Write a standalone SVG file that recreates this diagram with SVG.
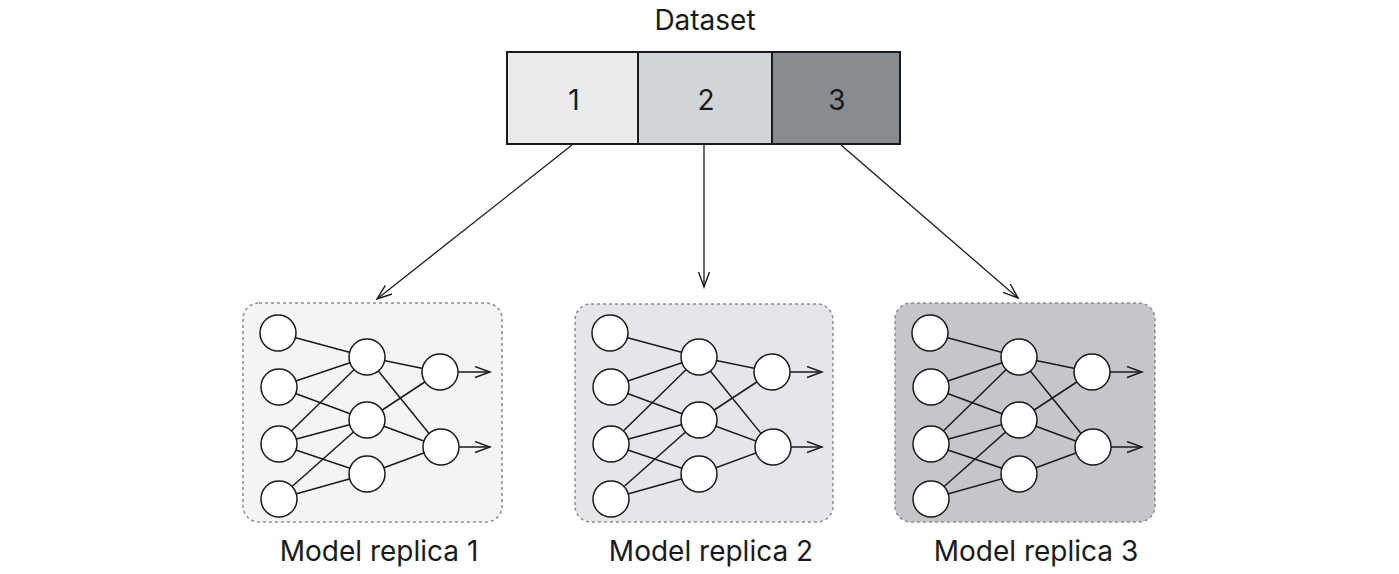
<svg xmlns="http://www.w3.org/2000/svg" width="1399" height="574" viewBox="0 0 1399 574">
<style>
.t{font-family:Inter,"Liberation Sans",sans-serif;fill:#1a1a1a;text-anchor:middle}
.cell{stroke:#1a1a1a;stroke-width:2}
.panel{stroke:#8a8d91;stroke-width:1.5;stroke-dasharray:3 3}
.n{fill:#fff;stroke:#1a1a1a;stroke-width:1.5}
.e{stroke:#1a1a1a;stroke-width:1.5;fill:none}
.c{stroke:#1a1a1a;stroke-width:1.3;fill:none}
</style>
<defs>
<marker id="ah" markerUnits="userSpaceOnUse" markerWidth="20" markerHeight="14" refX="16" refY="6" orient="auto" viewBox="0 0 20 14">
<path d="M1,0.5 L16,6 L1,11.5" fill="none" stroke="#1a1a1a" stroke-width="1.4"/>
</marker>
<g id="net">
<line class="e" x1="278" y1="333" x2="367" y2="357"/>
<line class="e" x1="278" y1="387" x2="367" y2="357"/>
<line class="e" x1="278" y1="387" x2="367" y2="420"/>
<line class="e" x1="278" y1="444" x2="367" y2="357"/>
<line class="e" x1="278" y1="444" x2="367" y2="420"/>
<line class="e" x1="278" y1="444" x2="367" y2="474"/>
<line class="e" x1="278" y1="499" x2="367" y2="420"/>
<line class="e" x1="278" y1="499" x2="367" y2="474"/>
<line class="e" x1="367" y1="357" x2="440" y2="372"/>
<line class="e" x1="367" y1="357" x2="440" y2="447"/>
<line class="e" x1="367" y1="420" x2="440" y2="372"/>
<line class="e" x1="367" y1="420" x2="440" y2="447"/>
<line class="e" x1="367" y1="474" x2="440" y2="447"/>
<line class="e" x1="458" y1="372" x2="490" y2="372" marker-end="url(#ah)"/>
<line class="e" x1="458" y1="447" x2="490" y2="447" marker-end="url(#ah)"/>
<circle class="n" cx="278" cy="333" r="18"/>
<circle class="n" cx="279" cy="387" r="18"/>
<circle class="n" cx="279" cy="444" r="18"/>
<circle class="n" cx="279" cy="499" r="18"/>
<circle class="n" cx="367" cy="357" r="18"/>
<circle class="n" cx="367" cy="420" r="18"/>
<circle class="n" cx="367" cy="474" r="18"/>
<circle class="n" cx="440" cy="372" r="18"/>
<circle class="n" cx="441" cy="447" r="18"/>
</g>
</defs>
<rect width="1399" height="574" fill="#fff"/>
<g id="dataset">
<text class="t" x="705" y="30" font-size="28">Dataset</text>
<g id="part1"><rect class="cell" x="507" y="52" width="131" height="92" fill="#eaebed"/><text class="t" x="574" y="110" font-size="28">1</text></g>
<g id="part2"><rect class="cell" x="638" y="52" width="134" height="92" fill="#d1d4d9"/><text class="t" x="706" y="110" font-size="28">2</text></g>
<g id="part3"><rect class="cell" x="772" y="52" width="128" height="92" fill="#878c91"/><text class="t" x="837" y="110" font-size="28">3</text></g>
</g>
<g id="connectors">
<line class="c" x1="572" y1="145" x2="377" y2="299" marker-end="url(#ah)"/>
<line class="c" x1="704" y1="145" x2="704" y2="287" marker-end="url(#ah)"/>
<line class="c" x1="841" y1="145" x2="1018" y2="298" marker-end="url(#ah)"/>
</g>
<g id="replica1">
<rect class="panel" x="243" y="303" width="259" height="219" rx="16" fill="#f3f4f6"/>
<use href="#net"/>
<text class="t" x="379" y="561" font-size="28">Model replica 1</text>
</g>
<g id="replica2">
<rect class="panel" x="575" y="304" width="258" height="218" rx="16" fill="#e4e6e9"/>
<use href="#net" x="332"/>
<text class="t" x="711" y="561" font-size="28">Model replica 2</text>
</g>
<g id="replica3">
<rect class="panel" x="895" y="303" width="260" height="219" rx="16" fill="#c4c6ca"/>
<use href="#net" x="652"/>
<text class="t" x="1036" y="561" font-size="28">Model replica 3</text>
</g>
</svg>
